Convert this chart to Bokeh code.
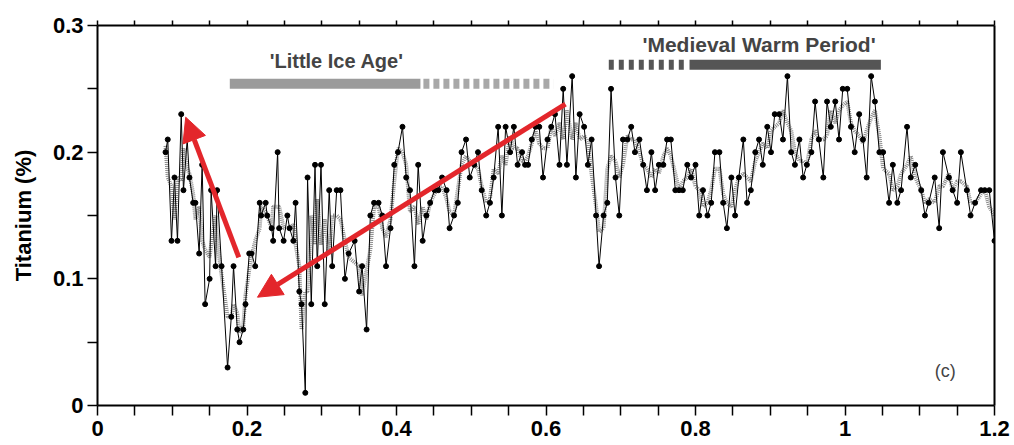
from bokeh.plotting import figure
from bokeh.models import FixedTicker, LinearAxis, Arrow, NormalHead, Label, ColumnDataSource
from bokeh.embed import file_html
from bokeh.resources import INLINE

# ---------------- data ----------------
age = [0.091, 0.094, 0.099, 0.103, 0.107, 0.112, 0.115, 0.120, 0.123, 0.128,
       0.131, 0.136, 0.140, 0.144, 0.150, 0.152, 0.158, 0.160, 0.166, 0.174,
       0.179, 0.182, 0.187, 0.190, 0.195, 0.198, 0.203, 0.206, 0.211, 0.217,
       0.219, 0.225, 0.227, 0.233, 0.235, 0.241, 0.243, 0.249, 0.254, 0.257,
       0.262, 0.265, 0.270, 0.273, 0.278, 0.281, 0.286, 0.291, 0.294, 0.299,
       0.304, 0.310, 0.314, 0.320, 0.325, 0.331, 0.336, 0.344, 0.350, 0.354,
       0.360, 0.365, 0.370, 0.376, 0.381, 0.386, 0.392, 0.397, 0.402, 0.408,
       0.413, 0.418, 0.424, 0.429, 0.435, 0.440, 0.445, 0.451, 0.456, 0.461,
       0.467, 0.471, 0.477, 0.482, 0.487, 0.493, 0.498, 0.504, 0.509, 0.514,
       0.520, 0.525, 0.530, 0.536, 0.541, 0.546, 0.552, 0.557, 0.562, 0.568,
       0.572, 0.576, 0.581, 0.586, 0.591, 0.596, 0.602, 0.607, 0.612, 0.618,
       0.623, 0.628, 0.635, 0.640, 0.645, 0.651, 0.656, 0.661, 0.667, 0.671,
       0.677, 0.682, 0.687, 0.693, 0.698, 0.703, 0.709, 0.714, 0.719, 0.725,
       0.730, 0.735, 0.741, 0.746, 0.751, 0.757, 0.762, 0.767, 0.773, 0.778,
       0.783, 0.789, 0.794, 0.800, 0.805, 0.810, 0.816, 0.821, 0.826, 0.832,
       0.837, 0.842, 0.848, 0.853, 0.858, 0.864, 0.869, 0.874, 0.880, 0.885,
       0.890, 0.896, 0.901, 0.906, 0.912, 0.917, 0.923, 0.928, 0.933, 0.939,
       0.944, 0.949, 0.955, 0.960, 0.965, 0.971, 0.976, 0.981, 0.987, 0.992,
       0.997, 1.003, 1.008, 1.013, 1.019, 1.024, 1.029, 1.035, 1.040, 1.046,
       1.051, 1.059, 1.064, 1.070, 1.075, 1.083, 1.088, 1.094, 1.102, 1.107,
       1.112, 1.120, 1.126, 1.131, 1.139, 1.144, 1.150, 1.155, 1.163, 1.168,
       1.174, 1.182, 1.187, 1.193, 1.200]

titanium = [0.20, 0.21, 0.13, 0.18, 0.13, 0.23, 0.17, 0.21, 0.18, 0.16,
            0.16, 0.12, 0.19, 0.08, 0.10, 0.17, 0.11, 0.17, 0.11, 0.03,
            0.07, 0.11, 0.06, 0.05, 0.06, 0.08, 0.12, 0.12, 0.11, 0.16,
            0.15, 0.16, 0.15, 0.14, 0.13, 0.20, 0.14, 0.13, 0.15, 0.14,
            0.13, 0.16, 0.09, 0.08, 0.01, 0.18, 0.08, 0.19, 0.11, 0.19,
            0.08, 0.17, 0.11, 0.17, 0.17, 0.10, 0.12, 0.13, 0.09, 0.11,
            0.06, 0.15, 0.16, 0.16, 0.15, 0.11, 0.14, 0.19, 0.20, 0.22,
            0.18, 0.17, 0.11, 0.19, 0.13, 0.15, 0.16, 0.17, 0.17, 0.18,
            0.17, 0.14, 0.15, 0.16, 0.20, 0.21, 0.18, 0.19, 0.20, 0.17,
            0.15, 0.16, 0.18, 0.22, 0.15, 0.22, 0.20, 0.22, 0.19, 0.20,
            0.19, 0.19, 0.21, 0.22, 0.22, 0.18, 0.21, 0.22, 0.23, 0.19,
            0.25, 0.19, 0.26, 0.18, 0.23, 0.22, 0.19, 0.21, 0.15, 0.11,
            0.15, 0.16, 0.25, 0.18, 0.15, 0.21, 0.21, 0.22, 0.20, 0.21,
            0.19, 0.17, 0.20, 0.17, 0.19, 0.19, 0.21, 0.21, 0.17, 0.17,
            0.17, 0.19, 0.18, 0.19, 0.15, 0.17, 0.15, 0.16, 0.20, 0.20,
            0.16, 0.14, 0.18, 0.15, 0.18, 0.21, 0.16, 0.17, 0.20, 0.21,
            0.19, 0.22, 0.20, 0.23, 0.23, 0.21, 0.26, 0.20, 0.19, 0.21,
            0.18, 0.19, 0.20, 0.24, 0.21, 0.18, 0.24, 0.22, 0.24, 0.21,
            0.25, 0.25, 0.22, 0.20, 0.23, 0.21, 0.18, 0.26, 0.24, 0.20,
            0.20, 0.16, 0.19, 0.16, 0.17, 0.22, 0.18, 0.19, 0.17, 0.15,
            0.16, 0.18, 0.14, 0.20, 0.18, 0.17, 0.16, 0.20, 0.17, 0.15,
            0.16, 0.17, 0.17, 0.17, 0.13]

# smoothed (grey dotted) curve, read at the same ages
smooth_ti = [0.205, 0.180, 0.173, 0.147, 0.180, 0.177, 0.203, 0.187, 0.183, 0.167,
             0.147, 0.157, 0.130, 0.123, 0.117, 0.127, 0.150, 0.130, 0.103, 0.070,
             0.070, 0.080, 0.073, 0.057, 0.063, 0.087, 0.107, 0.117, 0.130, 0.140,
             0.157, 0.153, 0.150, 0.140, 0.157, 0.157, 0.157, 0.140, 0.140, 0.140,
             0.143, 0.127, 0.110, 0.060, 0.090, 0.090, 0.150, 0.127, 0.163, 0.127,
             0.147, 0.120, 0.150, 0.150, 0.147, 0.130, 0.117, 0.113, 0.110, 0.087,
             0.107, 0.123, 0.157, 0.157, 0.140, 0.133, 0.147, 0.177, 0.203, 0.200,
             0.190, 0.153, 0.157, 0.143, 0.157, 0.147, 0.160, 0.167, 0.173, 0.173,
             0.163, 0.153, 0.150, 0.170, 0.190, 0.197, 0.193, 0.190, 0.187, 0.173,
             0.160, 0.163, 0.187, 0.183, 0.197, 0.190, 0.213, 0.203, 0.203, 0.193,
             0.193, 0.197, 0.207, 0.217, 0.207, 0.203, 0.203, 0.220, 0.213, 0.223,
             0.210, 0.233, 0.210, 0.223, 0.210, 0.213, 0.207, 0.183, 0.157, 0.137,
             0.140, 0.187, 0.197, 0.193, 0.180, 0.190, 0.213, 0.210, 0.210, 0.200,
             0.190, 0.187, 0.180, 0.187, 0.183, 0.197, 0.203, 0.197, 0.183, 0.170,
             0.177, 0.180, 0.187, 0.173, 0.170, 0.157, 0.160, 0.170, 0.187, 0.187,
             0.167, 0.160, 0.157, 0.170, 0.180, 0.183, 0.180, 0.177, 0.193, 0.200,
             0.207, 0.203, 0.217, 0.220, 0.223, 0.233, 0.223, 0.217, 0.200, 0.193,
             0.193, 0.190, 0.210, 0.217, 0.210, 0.210, 0.213, 0.233, 0.223, 0.233,
             0.237, 0.240, 0.223, 0.217, 0.213, 0.207, 0.217, 0.227, 0.233, 0.213,
             0.187, 0.183, 0.170, 0.173, 0.183, 0.190, 0.197, 0.180, 0.170, 0.160,
             0.163, 0.160, 0.173, 0.173, 0.183, 0.170, 0.177, 0.177, 0.173, 0.160,
             0.160, 0.167, 0.170, 0.157, 0.150]

x_ticks = [0, 0.2, 0.4, 0.6, 0.8, 1, 1.2]
x_tick_labels = ["0", "0.2", "0.4", "0.6", "0.8", "1", "1.2"]
x_minor = [0.05, 0.1, 0.15, 0.25, 0.3, 0.35, 0.45, 0.5, 0.55, 0.65, 0.7, 0.75,
           0.85, 0.9, 0.95, 1.05, 1.1, 1.15]
y_ticks = [0, 0.1, 0.2, 0.3]
y_tick_labels = ["0", "0.1", "0.2", "0.3"]
y_minor = [0.05, 0.15, 0.25]

# period bars (start, end) in age units
lia_solid = [0.177, 0.432]
lia_dashed = [0.436, 0.610]
mwp_dashed = [0.684, 0.789]
mwp_solid = [0.792, 1.048]

FONT = "Liberation Sans"

p = figure(width=1014, height=445, x_range=(0, 1.2), y_range=(0, 0.3),
           output_backend="svg", toolbar_location=None,
           min_border_left=97, min_border_right=20, min_border_top=25,
           min_border_bottom=40)
p.outline_line_color = None
p.grid.visible = False
p.background_fill_color = "white"

# axes
xa = p.xaxis[0]
xa.ticker = FixedTicker(ticks=x_ticks, minor_ticks=x_minor)
xa.major_label_overrides = dict(zip(x_ticks, x_tick_labels))
ya = p.yaxis[0]
ya.ticker = FixedTicker(ticks=y_ticks, minor_ticks=y_minor)
ya.major_label_overrides = dict(zip(y_ticks, y_tick_labels))
ya.axis_label = "Titanium (%)"
ya.axis_label_text_font = FONT
ya.axis_label_text_font_style = "bold"
ya.axis_label_text_font_size = "22px"
ya.axis_label_text_color = "black"
ya.axis_label_standoff = 14
for ax in (xa, ya):
    ax.axis_line_width = 2
    ax.axis_line_color = "black"
    ax.major_tick_line_width = 1.5
    ax.minor_tick_line_width = 1.5
    ax.major_tick_line_color = "black"
    ax.minor_tick_line_color = "black"
    ax.major_tick_in = 0
    ax.minor_tick_in = 0
    ax.major_tick_out = 10
    ax.minor_tick_out = 10
    ax.major_label_text_font = FONT
    ax.major_label_text_font_style = "bold"
    ax.major_label_text_font_size = "22px"
    ax.major_label_text_color = "black"
xa.major_label_standoff = 5
ya.major_label_standoff = 4

top = LinearAxis(ticker=FixedTicker(ticks=[], minor_ticks=x_ticks + x_minor),
                 axis_line_width=2, minor_tick_out=5, minor_tick_in=0,
                 minor_tick_line_width=1.5, major_tick_out=0, major_tick_in=0)
p.add_layout(top, "above")
right = LinearAxis(ticker=FixedTicker(ticks=[], minor_ticks=[]),
                   axis_line_width=2, major_tick_out=0, major_tick_in=0,
                   minor_tick_out=0, minor_tick_in=0)
p.add_layout(right, "right")

# period bars
p.line(lia_solid, [0.254, 0.254], line_width=10, line_color="#9b9b9b")
p.line(lia_dashed, [0.254, 0.254], line_width=10, line_color="#a8a8a8",
       line_dash="6 4")
p.line(mwp_dashed, [0.269, 0.269], line_width=10, line_color="#555555",
       line_dash="5 5")
p.line(mwp_solid, [0.269, 0.269], line_width=10, line_color="#555555")

p.add_layout(Label(x=0.32, y=0.2716, text="'Little Ice Age'", text_font=FONT,
                   text_font_style="bold", text_font_size="20px",
                   text_align="center", text_baseline="middle"))
p.add_layout(Label(x=0.885, y=0.285, text="'Medieval Warm Period'",
                   text_font=FONT, text_font_style="bold",
                   text_font_size="21px", text_align="center",
                   text_baseline="middle"))
p.add_layout(Label(x=1.134, y=0.0276, text="(c)", text_font=FONT,
                   text_font_size="18px", text_align="center",
                   text_baseline="middle"))

# series
src = ColumnDataSource(dict(age=age, ti=titanium, sm=smooth_ti))
p.line("age", "sm", source=src, line_width=4, line_color="#8a8a8a",
       line_dash="1 1")
p.line("age", "ti", source=src, line_width=1, line_color="black")
p.scatter("age", "ti", source=src, size=5, color="black")

# red arrows
RED = "#e3262b"
p.add_layout(Arrow(x_start=0.189, y_start=0.117, x_end=0.118, y_end=0.2276,
                   line_color=RED, line_width=5,
                   end=NormalHead(size=24, fill_color=RED, line_color=RED)))
p.add_layout(Arrow(x_start=0.626, y_start=0.238, x_end=0.214, y_end=0.0855,
                   line_color=RED, line_width=5,
                   end=NormalHead(size=24, fill_color=RED, line_color=RED)))

open("out.html", "w").write(file_html(p, INLINE))
